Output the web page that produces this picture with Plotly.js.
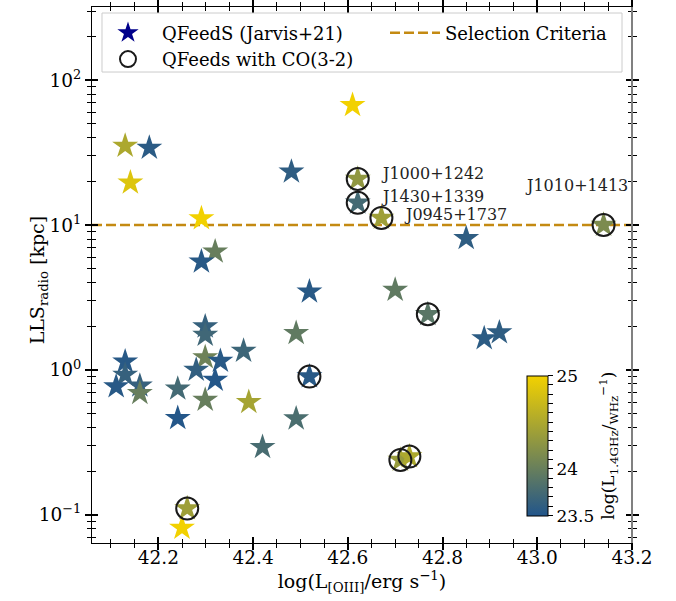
<!DOCTYPE html>
<html>
<head>
<meta charset="utf-8">
<script src="https://cdn.plot.ly/plotly-3.0.1.min.js"></script>
<style>html,body{margin:0;padding:0;background:#fff;}</style>
</head>
<body>
<div id="chart" style="width:676px;height:601px;"></div>
<script>
// ---- data: QFeedS sources without CO(3-2) ----
const qfX = [42.130, 42.181, 42.141, 42.291, 42.320, 42.291, 42.481,
             42.519, 42.299, 42.299, 42.491, 42.130, 42.130, 42.111, 42.161, 42.161,
             42.299, 42.331, 42.280, 42.320, 42.380, 42.241, 42.299, 42.391, 42.241,
             42.491, 42.420, 42.250, 42.610, 42.850, 42.700, 42.888, 42.920];
const qfY = [35.2, 34.1, 19.6, 11.1, 6.54, 5.58, 23.3,
             3.47, 1.99, 1.74, 1.79, 1.14, 0.924, 0.767, 0.776, 0.691,
             1.22, 1.15, 1.00, 0.853, 1.35, 0.74, 0.621, 0.599, 0.464,
             0.461, 0.293, 0.081, 67.2, 8.1, 3.56, 1.65, 1.81];
const qfC = [24.50, 23.57, 24.85, 25.00, 24.00, 23.55, 23.60,
             23.55, 23.65, 23.72, 23.95, 23.55, 23.65, 23.55, 23.65, 24.00,
             24.05, 23.55, 23.62, 23.52, 23.70, 23.75, 24.00, 24.45, 23.52,
             23.80, 23.78, 25.00, 25.00, 23.60, 23.95, 23.58, 23.60];
// ---- data: QFeedS sources with CO(3-2) ----
const coX = [42.261, 42.519, 42.621, 42.621, 42.671, 43.140, 42.769, 42.711, 42.730];
const coY = [0.1105, 0.899, 20.8, 14.25, 11.2, 10.0, 2.42, 0.239, 0.252];
const coC = [24.40, 23.55, 24.30, 23.75, 24.40, 24.15, 23.90, 24.35, 24.50];
const coNames = ['', '', 'J1000+1242', 'J1430+1339', 'J0945+1737', 'J1010+1413', '', '', ''];
// ---- selection criterion ----
const selectionY = [10, 10];
// ---- axis / colour-bar ticks ----
const xRange = [42.06, 43.2];
const yTickVals = [0.1, 1, 10, 100];
const yTickText = ['10<sup>−1</sup>', '10<sup>0</sup>', '10<sup>1</sup>', '10<sup>2</sup>'];
const cRange = [23.5, 25.0];
const cTickLabels = {23.5: '23.5', 24: '24', 25: '25'};

// label offsets (pixels) for named sources
const labelStyle = {
  'J1000+1242': {xs: 21, ys: 5, anchor: 'left'},
  'J1430+1339': {xs: 21, ys: 6, anchor: 'left'},
  'J0945+1737': {xs: 21, ys: 3, anchor: 'left'},
  'J1010+1413': {xs: 26, ys: 40, anchor: 'right'}
};

const FONT = 'DejaVu Serif, Liberation Serif, serif';
const colorscale = [[0, 'rgb(33,85,139)'], [1, 'rgb(242,209,0)']];

const yMinor = [];
[0.01, 0.1, 1, 10, 100].forEach(d => { for (let k = 2; k <= 9; k++) yMinor.push(+(d * k).toPrecision(3)); });
const cTicks = [];
for (let v = 235; v <= 250; v++) cTicks.push(v / 10);

const allX = qfX.concat(coX), allY = qfY.concat(coY), allC = qfC.concat(coC);

const traces = [
  {
    x: xRange, y: selectionY, mode: 'lines', name: 'Selection Criteria', legend: 'legend2',
    line: {color: '#c48a12', width: 2.5, dash: '10px,4px'},
    hoverinfo: 'skip'
  },
  {
    x: allX, y: allY, mode: 'markers', showlegend: false,
    marker: {
      symbol: 'star', size: 19.5, color: allC, cmin: cRange[0], cmax: cRange[1],
      colorscale: colorscale, line: {width: 0},
      colorbar: {
        x: 0.806, xanchor: 'left', xpad: 0, y: 0.051, yanchor: 'bottom', ypad: 0,
        thickness: 21, thicknessmode: 'pixels', len: 140, lenmode: 'pixels',
        outlinewidth: 1, outlinecolor: '#000',
        tickmode: 'array', tickvals: cTicks,
        ticktext: cTicks.map(v => cTickLabels[v] || ''),
        ticks: 'outside', ticklen: 5, tickwidth: 1, tickcolor: '#000',
        tickfont: {family: FONT, size: 17, color: '#000'},
        title: {text: 'log(L<sub>1.4GHz</sub>/<sub>WHz</sub><sup>−1</sup>)', side: 'right',
                font: {family: FONT, size: 17, color: '#000'}}
      }
    }
  },
  {
    x: [null], y: [null], mode: 'markers', name: 'QFeedS (Jarvis+21)', legend: 'legend',
    marker: {symbol: 'star', size: 16, color: '#00008b'}
  },
  {
    x: coX, y: coY, mode: 'markers', name: 'QFeeds with CO(3-2)', legend: 'legend',
    marker: {symbol: 'circle-open', size: 22, color: '#1a1a1a', line: {width: 2}},
    hoverinfo: 'skip'
  },
  {
    x: allX, y: allY, xaxis: 'x2', yaxis: 'y2', mode: 'markers', showlegend: false,
    marker: {opacity: 0}, hoverinfo: 'skip'
  }
];

const annotations = [];
coNames.forEach((n, i) => {
  if (!n) return;
  const s = labelStyle[n];
  annotations.push({
    x: coX[i], y: Math.log10(coY[i]), xref: 'x', yref: 'y', text: n, showarrow: false,
    xanchor: s.anchor, yanchor: 'middle', xshift: s.xs, yshift: s.ys,
    font: {family: FONT, size: 16, color: '#222'}
  });
});
// y-axis title
annotations.push({
  xref: 'paper', yref: 'paper', x: -0.1, y: 0.49, textangle: -90, showarrow: false,
  xanchor: 'center', yanchor: 'middle', text: 'LLS<sub>radio</sub> [kpc]',
  font: {family: FONT, size: 19, color: '#000'}
});

const yRange = [Math.log10(0.0638), Math.log10(320)];
const axBase = {
  showgrid: false, zeroline: false, tickcolor: '#000', tickwidth: 2, ticklen: 6,
  tickfont: {family: FONT, size: 18.5, color: '#000'}
};
const legBase = {
  bgcolor: 'rgba(0,0,0,0)', borderwidth: 0, orientation: 'v',
  font: {family: FONT, size: 18, color: '#000'}, traceorder: 'normal', yanchor: 'top', xanchor: 'left'
};

const layout = {
  width: 676, height: 601,
  margin: {l: 92, r: 44, t: 7, b: 58},
  paper_bgcolor: '#fff', plot_bgcolor: '#fff',
  font: {family: FONT, color: '#000'},
  showlegend: true,
  legend: Object.assign({}, legBase, {x: 0.0037, y: 0.986, itemwidth: 58}),
  legend2: Object.assign({}, legBase, {x: 0.5426, y: 0.986, itemwidth: 50}),
  xaxis: Object.assign({}, axBase, {
    range: xRange, tickmode: 'linear', tick0: 42.2, dtick: 0.2, tickformat: '.1f',
    ticks: 'outside', showline: true, linecolor: '#000', linewidth: 1, mirror: 'allticks',
    ticklabelstandoff: -8,
    minor: {ticks: 'outside', dtick: 0.05, ticklen: 4, tickwidth: 1, tickcolor: '#000', showgrid: false},
    title: {text: 'log(L<sub>[OIII]</sub>/erg s<sup>−1</sup>)', standoff: 2,
            font: {family: FONT, size: 19, color: '#000'}}
  }),
  yaxis: Object.assign({}, axBase, {
    type: 'log', range: yRange, tickmode: 'array', tickvals: yTickVals, ticktext: yTickText,
    ticks: 'outside', showline: true, linecolor: '#000', linewidth: 1, mirror: 'allticks',
    minor: {ticks: 'outside', tickmode: 'array', tickvals: yMinor, ticklen: 4, tickwidth: 1, tickcolor: '#000', showgrid: false}
  }),
  xaxis2: Object.assign({}, axBase, {
    overlaying: 'x', anchor: 'y2', range: xRange, tickmode: 'linear', tick0: 42.2, dtick: 0.2,
    ticks: 'inside', showline: false, mirror: 'allticks', showticklabels: false,
    minor: {ticks: 'inside', dtick: 0.05, ticklen: 4, tickwidth: 1, tickcolor: '#000', showgrid: false}
  }),
  yaxis2: Object.assign({}, axBase, {
    overlaying: 'y', anchor: 'x2', type: 'log', range: yRange, tickmode: 'array', tickvals: yTickVals,
    ticks: 'inside', showline: false, mirror: 'allticks', showticklabels: false,
    minor: {ticks: 'inside', tickmode: 'array', tickvals: yMinor, ticklen: 4, tickwidth: 1, tickcolor: '#000', showgrid: false}
  }),
  shapes: [
    {type: 'line', xref: 'paper', yref: 'paper', x0: 1, x1: 1, y0: 0, y1: 1,
     line: {color: '#808080', width: 2}, layer: 'above'},
    // legend frame
    {type: 'rect', xref: 'paper', yref: 'paper', x0: 0.0185, x1: 0.9815, y0: 0.8787, y1: 0.9888,
     fillcolor: '#fff', line: {color: '#cccccc', width: 1}, layer: 'above'}
  ],
  annotations: annotations
};

Plotly.newPlot('chart', traces, layout, {displayModeBar: false, staticPlot: true});
</script>
</body>
</html>
